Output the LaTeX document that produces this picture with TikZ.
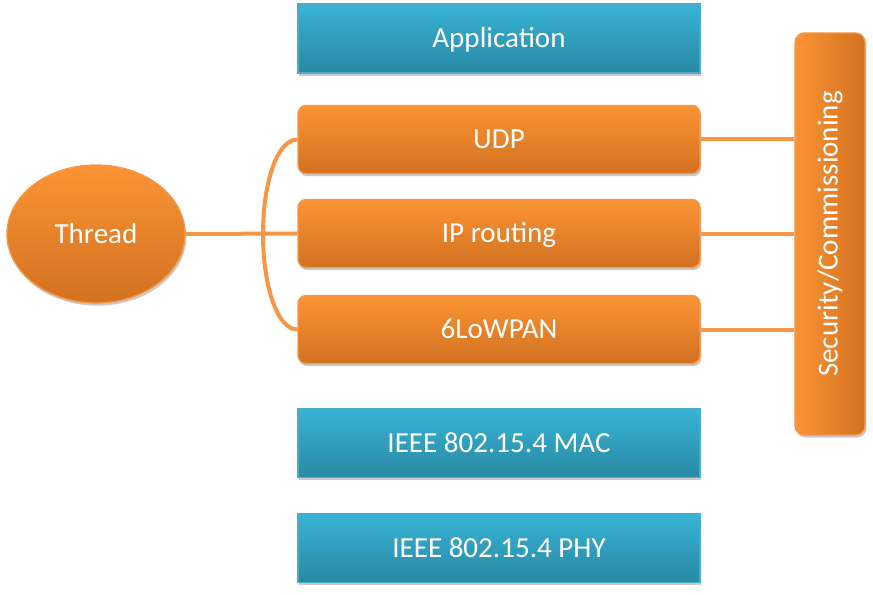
\documentclass[tikz,border=0pt]{standalone}
\usepackage{fontspec}
\setmainfont{Carlito}
\usetikzlibrary{shapes.geometric,shadows}
\definecolor{orangeTop}{RGB}{250,148,52}
\definecolor{orangeBot}{RGB}{211,113,32}
\definecolor{orangeLine}{RGB}{247,150,70}
\definecolor{blueTop}{RGB}{56,179,215}
\definecolor{blueBot}{RGB}{40,137,163}
\definecolor{blueLine}{RGB}{75,172,198}
\begin{document}
\begin{tikzpicture}[
	x=0.75pt, y=-0.75pt,
	every node/.style={text=white, font=\fontsize{21.8}{26}\selectfont, line width=1pt,
		drop shadow={shadow xshift=1pt, shadow yshift=-2pt, opacity=0.35, fill=black!60}},
	caps/.style={text height=14pt, text depth=0pt}, % centre on the capitals
	layer/.style={rectangle, caps, draw=blueLine, top color=blueTop, bottom color=blueBot,
		minimum width=301.5pt, minimum height=51.75pt},
	sublayer/.style={rectangle, caps, rounded corners=6pt, draw=orangeLine, top color=orangeTop, bottom color=orangeBot,
		minimum width=301.5pt, minimum height=51pt},
	link/.style={draw=orangeLine, line width=3pt},
]
\useasboundingbox (0,0) rectangle (873,595);

\node[layer] (app) at (499,38.5) {Application};
\node[sublayer] (udp) at (499,139.5) {UDP};
\node[sublayer] (ip) at (499,233.5) {IP routing};
\node[sublayer] (lowpan) at (499,329.5) {6LoWPAN};
\node[layer] (mac) at (499,443) {IEEE 802.15.4 MAC};
\node[layer] (phy) at (499,548) {IEEE 802.15.4 PHY};

\node[rectangle, rounded corners=7pt, draw=orangeLine, left color=orangeTop, right color=orangeBot,
	minimum width=52.5pt, minimum height=301.5pt] (sec) at (830,234)
	{\rotatebox{90}{Security/Commissioning}};

\node[ellipse, caps, draw=orangeLine, top color=orangeTop, bottom color=orangeBot,
	minimum width=133.5pt, minimum height=103.5pt] (thread) at (96,234) {Thread};

% bracket round the three middle layers
\coordinate (brk) at (263,234);
\draw[link] (udp.west) .. controls +(-15pt,0) and +(0,39pt) .. (brk)
	.. controls +(0,-39pt) and +(-15pt,0) .. (lowpan.west);
\draw[link] (thread.east) -- (ip.west);

\draw[link] (udp.east) -- (udp.east -| sec.west);
\draw[link] (ip.east) -- (ip.east -| sec.west);
\draw[link] (lowpan.east) -- (lowpan.east -| sec.west);
\end{tikzpicture}
\end{document}
